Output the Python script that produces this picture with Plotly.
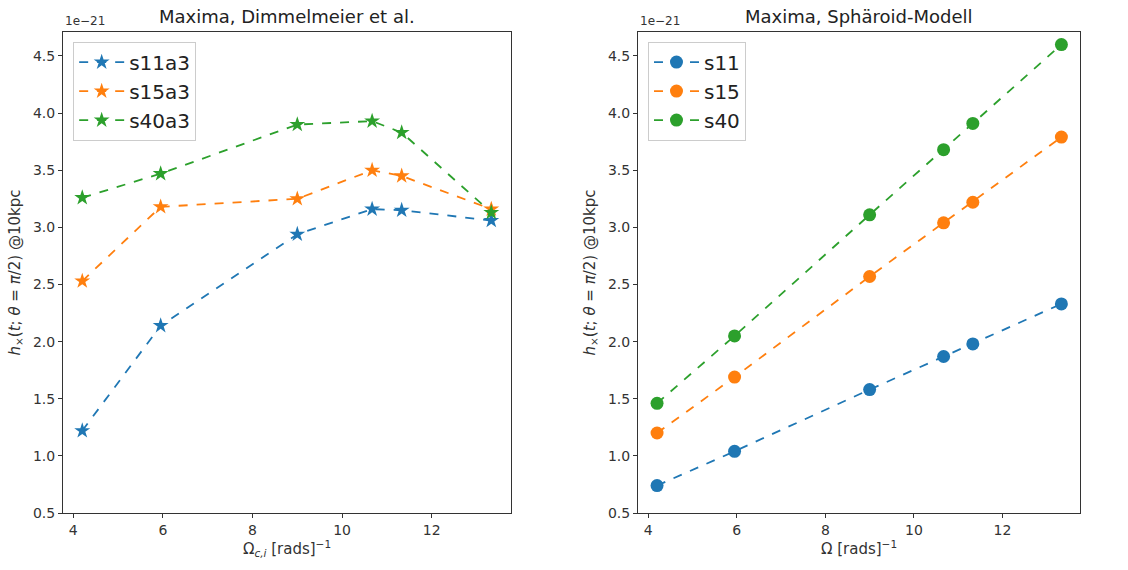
import plotly.graph_objects as go

omega = [4.2, 5.95, 9.0, 10.67, 11.33, 13.33]

dimm_names = ["s11a3", "s15a3", "s40a3"]
s11a3 = [1.22, 2.14, 2.94, 3.16, 3.15, 3.06]
s15a3 = [2.53, 3.18, 3.25, 3.50, 3.45, 3.16]
s40a3 = [3.26, 3.47, 3.90, 3.93, 3.83, 3.13]

sph_names = ["s11", "s15", "s40"]
s11 = [0.74, 1.04, 1.58, 1.87, 1.98, 2.33]
s15 = [1.20, 1.69, 2.57, 3.04, 3.22, 3.79]
s40 = [1.46, 2.05, 3.11, 3.68, 3.91, 4.60]

colors = ["#1f77b4", "#ff7f0e", "#2ca02c"]
yticks = [0.5, 1.0, 1.5, 2.0, 2.5, 3.0, 3.5, 4.0, 4.5]
xticks = [4, 6, 8, 10, 12]

FONT = "DejaVu Sans"
fig = go.Figure()

for name, vals, c in zip(dimm_names, [s11a3, s15a3, s40a3], colors):
    fig.add_trace(go.Scatter(
        x=omega, y=vals, name=name, mode="lines+markers",
        line=dict(color=c, dash="dash", width=1.8),
        marker=dict(symbol="star", size=12, color=c, line=dict(width=0)),
        xaxis="x", yaxis="y", legend="legend"))

for name, vals, c in zip(sph_names, [s11, s15, s40], colors):
    fig.add_trace(go.Scatter(
        x=omega, y=vals, name=name, mode="lines+markers",
        line=dict(color=c, dash="dash", width=1.8),
        marker=dict(symbol="circle", size=13, color=c, line=dict(width=0)),
        xaxis="x2", yaxis="y2", legend="legend2"))

d1 = [0.0, 0.4405]
d2 = [0.5654, 1.0]

axis_common = dict(showline=True, linecolor="#333", linewidth=1, mirror=True,
                   ticks="outside", ticklen=4, tickcolor="#333", showgrid=False,
                   zeroline=False, tickfont=dict(size=14, color="#333"))

ylabel = "<i>h</i><sub>×</sub>(<i>t</i>; <i>θ</i> = <i>π</i>/2) @10kpc"

fig.update_layout(
    width=1128, height=570,
    margin=dict(l=63, r=48, t=32, b=57),
    paper_bgcolor="white", plot_bgcolor="white",
    font=dict(family=FONT, color="#333"),
    xaxis=dict(domain=d1, range=[3.77, 13.77], tickvals=xticks, anchor="y",
               title=dict(text="Ω<sub><i>c,i</i></sub> [rads]<sup>−1</sup>", font=dict(size=15), standoff=6),
               **axis_common),
    yaxis=dict(range=[0.5, 4.71], tickvals=yticks, tickformat=".1f", anchor="x",
               title=dict(text=ylabel, font=dict(size=15), standoff=8),
               **axis_common),
    xaxis2=dict(domain=d2, range=[3.77, 13.75], tickvals=xticks, anchor="y2",
                title=dict(text="Ω [rads]<sup>−1</sup>", font=dict(size=15), standoff=6),
                **axis_common),
    yaxis2=dict(range=[0.5, 4.71], tickvals=yticks, tickformat=".1f", anchor="x2",
                title=dict(text=ylabel, font=dict(size=15), standoff=8),
                **axis_common),
    legend=dict(x=0.01, y=0.98, xref="paper", yref="paper", xanchor="left", yanchor="top",
                bordercolor="#ccc", borderwidth=1, bgcolor="rgba(255,255,255,0.8)",
                font=dict(size=20, color="#222"), itemwidth=45, tracegroupgap=2),
    legend2=dict(x=0.5654 + 0.0098, y=0.98, xref="paper", yref="paper", xanchor="left", yanchor="top",
                 bordercolor="#ccc", borderwidth=1, bgcolor="rgba(255,255,255,0.8)",
                 font=dict(size=20, color="#222"), itemwidth=45, tracegroupgap=2),
    showlegend=True,
)

anns = [
    dict(text="Maxima, Dimmelmeier et al.", x=(d1[0] + d1[1]) / 2, y=1.0, yshift=3),
    dict(text="Maxima, Sphäroid-Modell", x=(d2[0] + d2[1]) / 2, y=1.0, yshift=3),
]
for a in anns:
    fig.add_annotation(text=a["text"], x=a["x"], y=a["y"], xref="paper", yref="paper",
                       xanchor="center", yanchor="bottom", yshift=a["yshift"], showarrow=False,
                       font=dict(size=18, color="#222", family=FONT))
for xd in [d1[0], d2[0]]:
    fig.add_annotation(text="1e−21", x=xd, y=1.0, xref="paper", yref="paper",
                       xanchor="left", yanchor="bottom", yshift=2, showarrow=False,
                       font=dict(size=12, color="#333", family=FONT))

fig.write_html("out.html")
